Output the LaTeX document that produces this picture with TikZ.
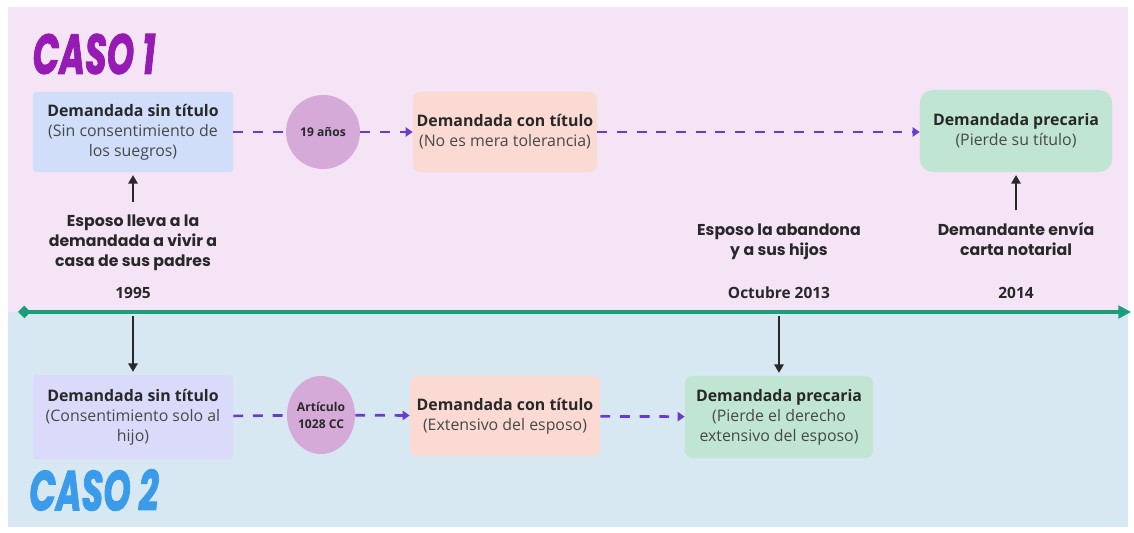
\documentclass[tikz,border=0pt]{standalone}
\usepackage{fontspec}
\usepackage{graphicx}
\setmainfont{Open Sans}
\newfontfamily\popfont{Poppins}
\newfontfamily\casofont{Poppins}[BoldItalicFeatures={FakeBold=2}]
\usetikzlibrary{positioning,arrows.meta,shapes.geometric}

\definecolor{pinkbg}{RGB}{245,228,246}
\definecolor{bluebg}{RGB}{216,232,242}
\definecolor{boxblue}{RGB}{208,222,250}
\definecolor{boxlav}{RGB}{218,219,250}
\definecolor{boxpeach}{RGB}{250,218,210}
\definecolor{boxmint}{RGB}{192,229,211}
\definecolor{circpink}{RGB}{214,170,216}
\definecolor{dashpurple}{RGB}{106,58,205}
\definecolor{linegreen}{RGB}{26,158,122}
\definecolor{casopurple}{RGB}{150,26,180}
\definecolor{casoblue}{RGB}{58,155,234}
\definecolor{textdark}{RGB}{40,40,40}
\definecolor{textgray}{RGB}{72,72,72}

\tikzset{
  event/.style={fill=#1, rounded corners=5pt, align=center, minimum width=4.7cm, minimum height=2cm,
    inner xsep=2pt, text=textgray, font=\fontsize{11.3}{14.2}\selectfont},
  period/.style={fill=circpink, circle, align=center, minimum size=1.85cm, inner sep=0pt,
    text=textdark, font=\fontsize{8.6}{12}\selectfont\bfseries},
  note/.style={align=center, text=textdark, font=\fontsize{11.2}{14.2}\selectfont\popfont\bfseries},
  year/.style={text=textdark, font=\fontsize{11}{12}\selectfont\bfseries},
  caso/.style={font=\fontsize{40}{40}\selectfont\casofont\bfseries\itshape},
  flow/.style={draw=dashpurple, line width=1.9pt, dash pattern=on 7pt off 7pt,
    -{Triangle[length=5pt,width=6.5pt]}},
  link/.style={draw=dashpurple, line width=1.9pt, dash pattern=on 7pt off 7pt},
  push/.style={draw=textdark, line width=1.5pt, -{Triangle[length=6pt,width=6.5pt]}}
}

\begin{document}
\begin{tikzpicture}[x=0.025cm, y=0.025cm]
\useasboundingbox (0,0) rectangle (1134,533);
\fill[white] (0,0) rectangle (1134,533);
\fill[pinkbg] (8,221) rectangle (1128,526);
\fill[bluebg] (8,6) rectangle (1128,221);

% caso 1
\node [caso, text=casopurple] (caso1) at (94,479) {\scalebox{0.62}[1]{CASO 1}};
\node [event=boxblue, rounded corners=2pt, minimum width=5cm] (sintit1) at (133,401)
  {\textbf{\textcolor{textdark}{Demandada sin título}}\\(Sin consentimiento de\\los suegros)};
\node [period] (anios) at (323,401) {19 años};
\node [event=boxpeach, minimum width=4.6cm] (contit1) at (505,401)
  {\textbf{\textcolor{textdark}{Demandada con título}}\\(No es mera tolerancia)};
\node [event=boxmint, rounded corners=9pt, minimum width=4.8cm, minimum height=2.05cm] (prec1) at (1016,402)
  {\textbf{\textcolor{textdark}{Demandada precaria}}\\(Pierde su título)};

\node [note] (lleva) at (133,290) {Esposo lleva a la\\demandada a vivir a\\casa de sus padres};
\node [note] (abandona) at (779,291) {Esposo la abandona\\y a sus hijos};
\node [note] (carta) at (1016,294) {Demandante envía\\carta notarial};
\node [year] (y1995) at (133,240) {1995};
\node [year] (y2013) at (779,240) {Octubre 2013};
\node [year] (y2014) at (1016,240) {2014};

% timeline
\coordinate (tstart) at (18,221);
\coordinate (tend) at (1131,221);
\coordinate (t1995) at (133,221);
\coordinate (t2013) at (779,221);
\draw[linegreen, line width=2.2pt, {Diamond[length=9pt,width=9pt]}-{Triangle[length=9pt,width=9pt]}] (tstart) -- (tend);

% caso 2
\node [event=boxlav, rounded corners=2pt, minimum width=5cm, minimum height=2.1cm] (sintit2) at (133,116)
  {\textbf{\textcolor{textdark}{Demandada sin título}}\\(Consentimiento solo al\\hijo)};
\node [period, ellipse, minimum width=1.7cm, minimum height=1.95cm] (articulo) at (321,118) {Artículo\\1028 CC};
\node [event=boxpeach, minimum width=4.75cm] (contit2) at (505,117)
  {\textbf{\textcolor{textdark}{Demandada con título}}\\(Extensivo del esposo)};
\node [event=boxmint, minimum width=4.7cm, minimum height=2.05cm] (prec2) at (779,116)
  {\textbf{\textcolor{textdark}{Demandada precaria}}\\(Pierde el derecho\\extensivo del esposo)};
\node [caso, text=casoblue] (caso2) at (94,43) {\scalebox{0.62}[1]{CASO 2}};

% dashed steps
\draw[link] (sintit1) -- (anios);
\draw[flow] (anios) -- (contit1);
\draw[flow] (contit1) -- (prec1.west |- contit1);
\draw[link] (sintit2) -- (articulo);
\draw[flow] (articulo) -- (contit2);
\draw[flow] (contit2) -- (prec2);

% events on the timeline
\draw[push, shorten <=6pt, shorten >=2pt] (lleva.north) -- (sintit1.south);
\draw[push, shorten <=5pt, shorten >=2pt] (carta.north) -- (prec1.south);
\draw[push, shorten <=3pt, shorten >=2pt] (t1995) -- (sintit2.north);
\draw[push, shorten <=3pt, shorten >=2pt] (t2013) -- (prec2.north);
\end{tikzpicture}
\end{document}
